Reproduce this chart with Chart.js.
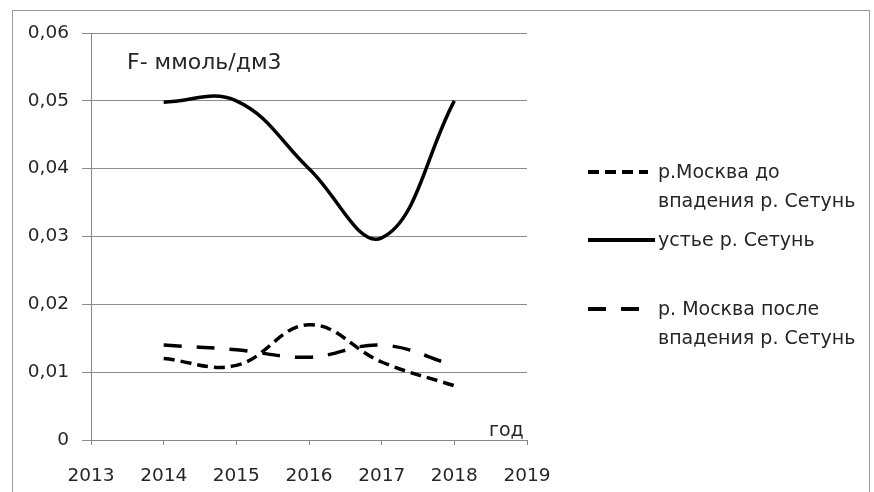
<!DOCTYPE html>
<html>
<head>
<meta charset="utf-8">
<script src="https://cdn.jsdelivr.net/npm/chart.js@4"></script>
<style>
  html, body { margin: 0; padding: 0; background: #fff; }
  #wrap { position: relative; width: 874px; height: 492px; }
</style>
</head>
<body>
<div id="wrap"><canvas id="chart" width="874" height="492"></canvas></div>
<script>
// data
const years = [2014, 2015, 2016, 2017, 2018];
const beforeSetun = [0.012, 0.011, 0.017, 0.0115, 0.008];   // р.Москва до впадения
const mouthSetun = [0.0498, 0.05, 0.04, 0.0298, 0.05];       // устье р. Сетунь
const afterSetun = [0.014, 0.0133, 0.0122, 0.014, 0.011];   // р.Москва после впадения
const seriesNames = [
    ["р.Москва до", "впадения р. Сетунь"],
    ["устье р. Сетунь"],
    ["р. Москва после", "впадения р. Сетунь"]
];
const xTicks = [2013, 2014, 2015, 2016, 2017, 2018, 2019];
const yTicks = [0, 0.01, 0.02, 0.03, 0.04, 0.05, 0.06];
const unitLabel = "F- ммоль/дм3";
const xAxisLabel = "год";

const FONT = "'DejaVu Sans', sans-serif";
const TXT = "#262626";

const toPoints = (vals) => vals.map((v, i) => ({ x: years[i], y: v }));

// extra drawing: frame, unit label, axis label, legend
const decor = {
    id: "decor",
    afterDraw(chart) {
        const ctx = chart.ctx;
        ctx.save();
        ctx.strokeStyle = "#9a9a9a";
        ctx.lineWidth = 1;
        ctx.strokeRect(12.5, 10.5, 857, 490);

        ctx.fillStyle = TXT;
        ctx.textBaseline = "middle";
        ctx.font = "22px " + FONT;
        ctx.fillText(unitLabel, 127, 63);
        ctx.font = "19px " + FONT;
        ctx.fillText(xAxisLabel, 489, 431);

        // legend
        const rows = [
            { y: 172, lines: seriesNames[0], ds: 0 },
            { y: 240, lines: seriesNames[1], ds: 1 },
            { y: 309, lines: seriesNames[2], ds: 2 }
        ];
        ctx.font = "19px " + FONT;
        rows.forEach(r => {
            const ds = chart.data.datasets[r.ds];
            ctx.beginPath();
            ctx.setLineDash(ds.borderDash || []);
            ctx.lineWidth = 4;
            ctx.strokeStyle = "#000";
            ctx.moveTo(588, r.y);
            ctx.lineTo(r.ds === 1 ? 655 : 648, r.y);
            ctx.stroke();
            ctx.setLineDash([]);
            r.lines.forEach((t, k) => ctx.fillText(t, 658, r.y + 1 + k * 29));
        });
        ctx.restore();
    }
};

new Chart(document.getElementById("chart"), {
    type: "line",
    data: {
        datasets: [
            { label: seriesNames[0].join(" "), data: toPoints(beforeSetun), borderColor: "#000", borderWidth: 3.5, borderDash: [11, 6], tension: 0.4, pointRadius: 0 },
            { label: seriesNames[1].join(" "), data: toPoints(mouthSetun), borderColor: "#000", borderWidth: 3.5, tension: 0.4, pointRadius: 0 },
            { label: seriesNames[2].join(" "), data: toPoints(afterSetun), borderColor: "#000", borderWidth: 3.5, borderDash: [18, 15], tension: 0.4, pointRadius: 0 }
        ]
    },
    options: {
        responsive: false,
        animation: false,
        events: [],
        layout: { padding: { left: 0, top: 33, right: 347, bottom: 0 } },
        plugins: { legend: { display: false }, tooltip: { enabled: false } },
        scales: {
            x: {
                type: "linear",
                min: xTicks[0], max: xTicks[xTicks.length - 1],
                afterBuildTicks: (s) => { s.ticks = xTicks.map(v => ({ value: v })); },
                afterFit: (s) => { s.height = 52; },
                border: { color: "#868686", width: 1 },
                grid: { drawOnChartArea: false, drawTicks: true, tickLength: 5, color: "#868686" },
                ticks: { color: TXT, font: { family: FONT, size: 18.5 }, padding: 20, callback: (v) => String(v) }
            },
            y: {
                min: yTicks[0], max: yTicks[yTicks.length - 1],
                afterBuildTicks: (s) => { s.ticks = yTicks.map(v => ({ value: v })); },
                afterFit: (s) => { s.width = 91; },
                border: { color: "#868686", width: 1 },
                grid: { color: "#8c8c8c", lineWidth: 1, tickLength: 9 },
                ticks: { color: TXT, font: { family: FONT, size: 18.5 }, padding: 13,
                    callback: (v) => v === 0 ? "0" : v.toFixed(2).replace(".", ",") }
            }
        }
    },
    plugins: [decor]
});
</script>
</body>
</html>
